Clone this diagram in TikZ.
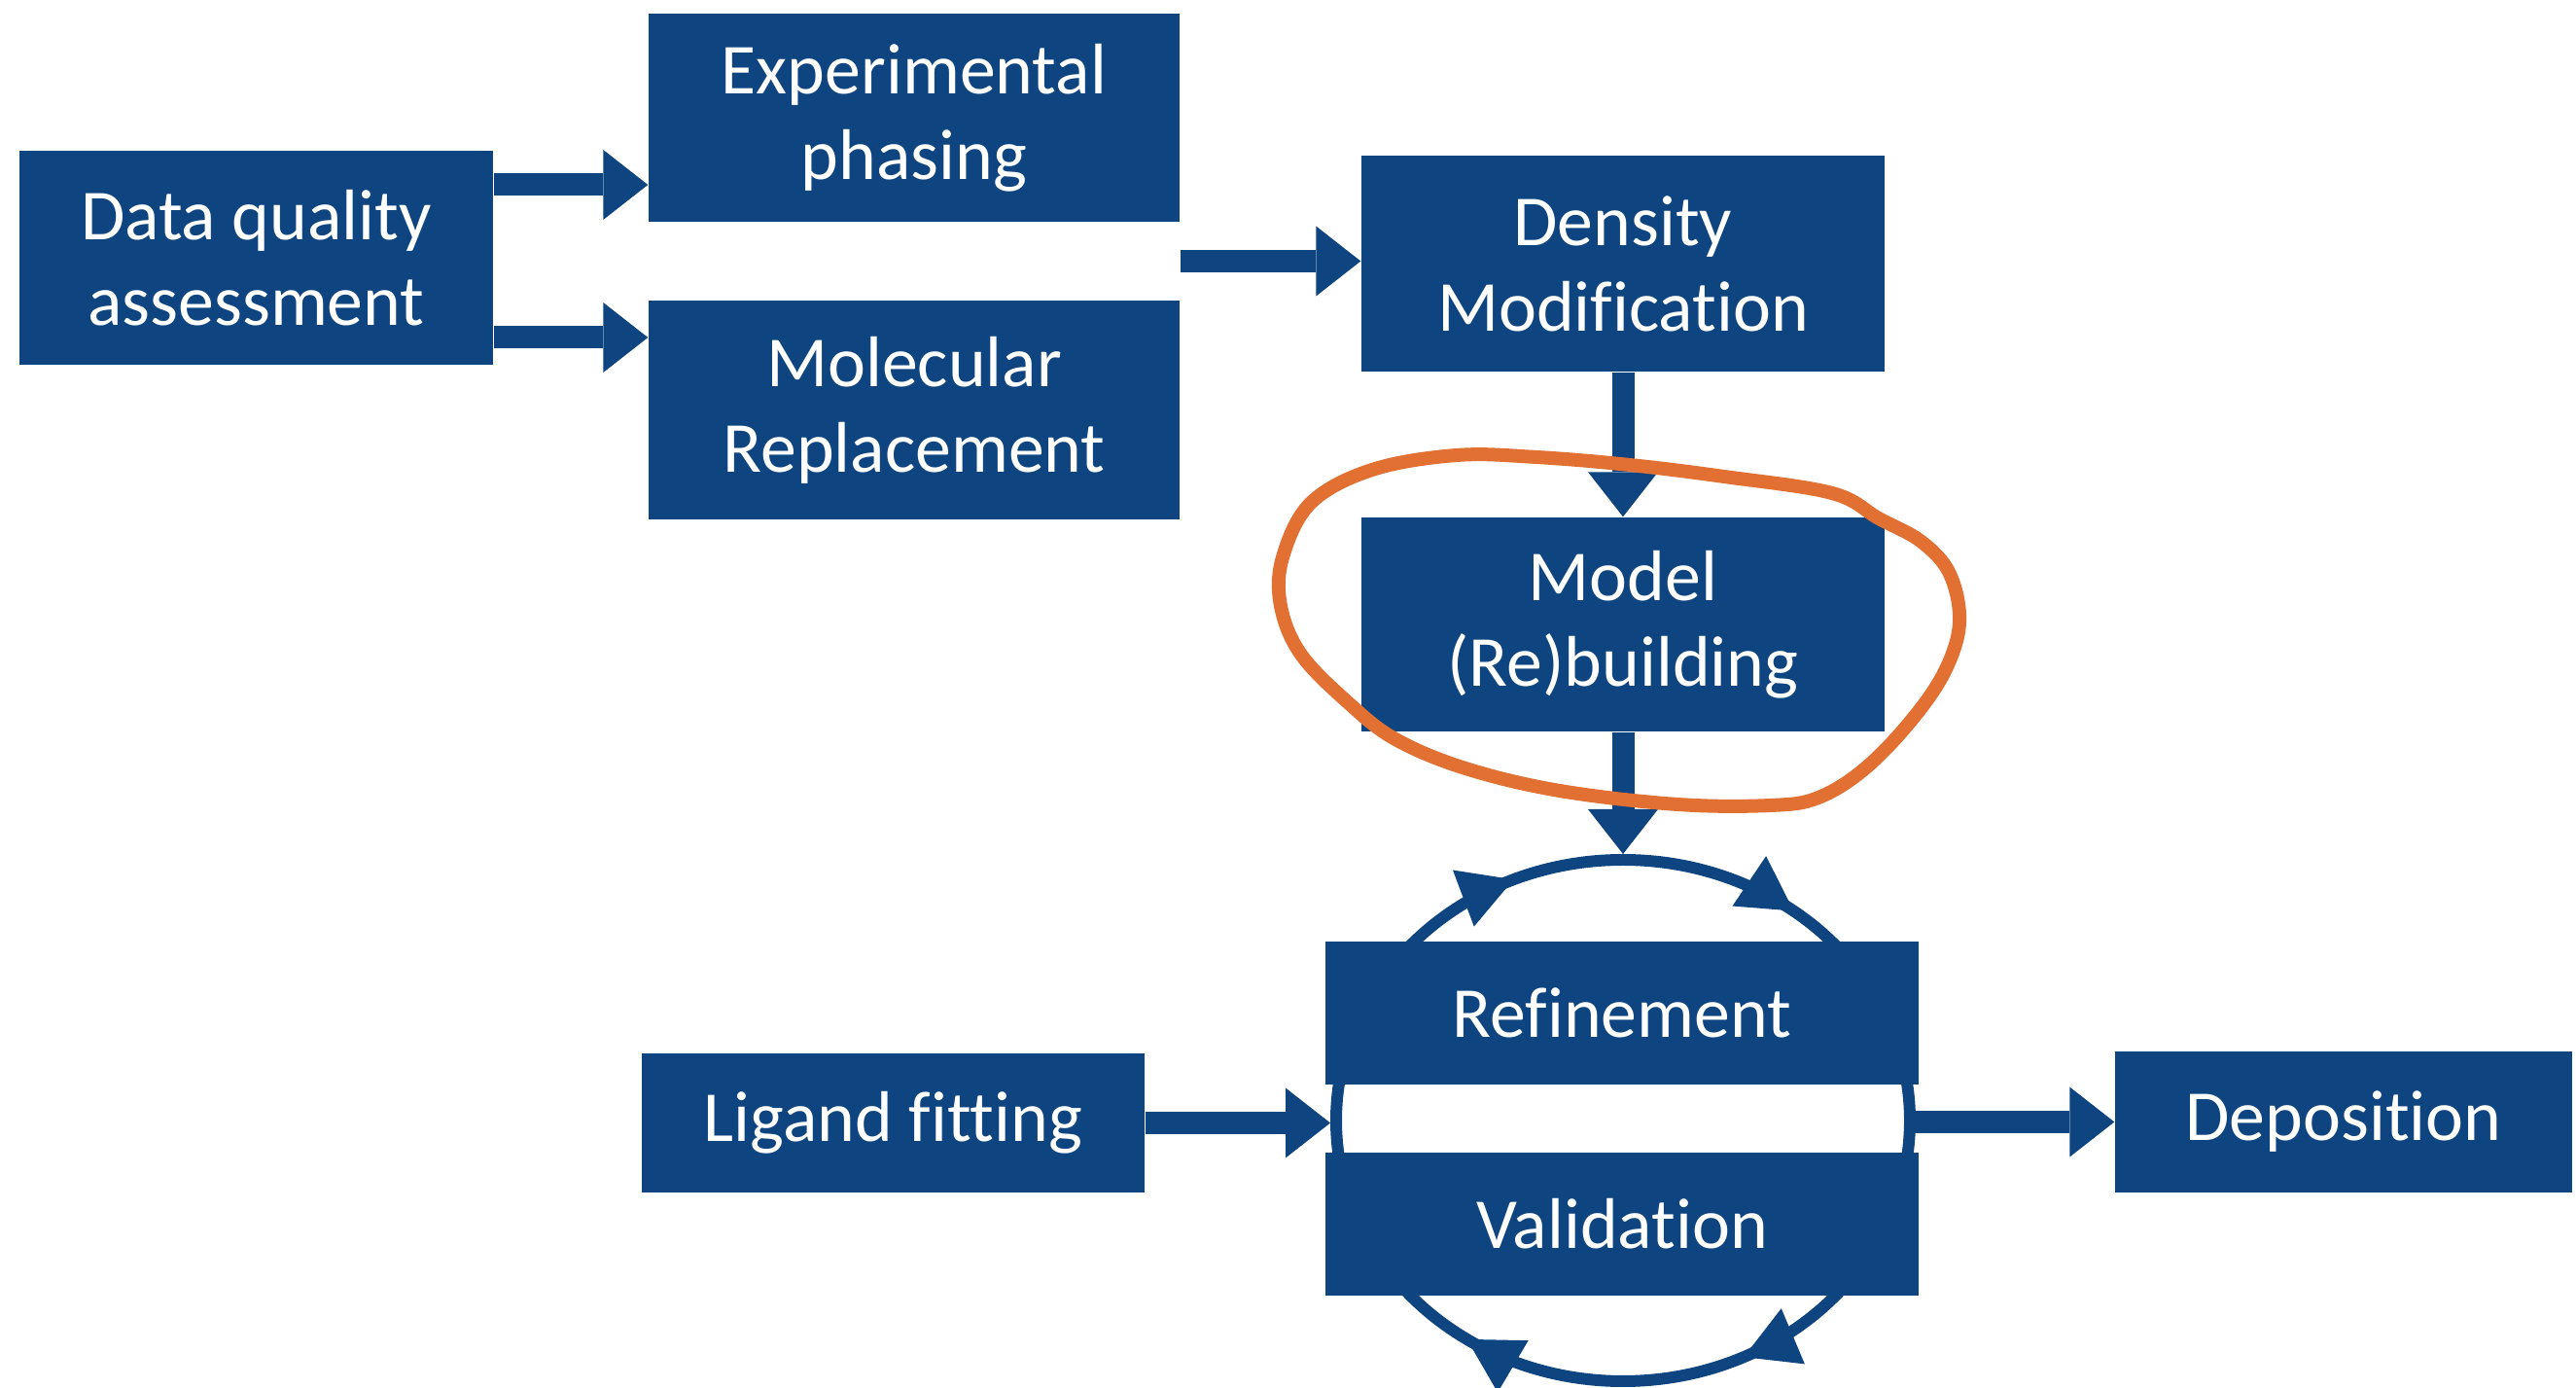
\documentclass[tikz,border=0pt]{standalone}
\usepackage{fontspec}
\setmainfont{Carlito}[Ligatures=CommonOff]
\usetikzlibrary{arrows.meta,decorations.markings,calc}

\definecolor{boxblue}{RGB}{14,68,128}
\definecolor{penorange}{RGB}{225,112,50}

\tikzset{
  stage/.style={fill=boxblue, text=white, inner sep=0pt, align=center,
    font=\fontsize{21}{25}\selectfont},
  flow/.style={->, draw=boxblue, line width=0.23cm},
  loopline/.style={draw=boxblue, line width=0.12cm},
  looptip/.tip={Triangle[length=0.55cm,width=0.62cm,line width=0pt]},
}

\begin{document}
\begin{tikzpicture}[>={Triangle[length=0.46cm,width=0.72cm,line width=0pt]},line join=miter]
  \useasboundingbox (0,0) rectangle (26.49,-14.27);
%%
  % Node: data
  \node[stage, minimum width=4.87cm, minimum height=2.20cm] (data) at (2.635,-2.65) {Data quality\\assessment};
  % Node: exp
  \node[stage, minimum width=5.46cm, minimum height=2.14cm] (exp) at (9.40,-1.21) {Experimental\\phasing};
  % Node: mol
  \node[stage, minimum width=5.46cm, minimum height=2.25cm] (mol) at (9.40,-4.215) {Molecular\\Replacement};
  % Node: dens
  \node[stage, minimum width=5.38cm, minimum height=2.22cm] (dens) at (16.69,-2.71) {Density\\Modification};
  % Node: model
  \node[stage, minimum width=5.38cm, minimum height=2.20cm] (model) at (16.69,-6.42) {Model\\(Re)building};
  % Node: ligand
  \node[stage, minimum width=5.17cm, minimum height=1.43cm] (ligand) at (9.185,-11.545) {Ligand fitting};
  % Node: depo
  \node[stage, minimum width=4.70cm, minimum height=1.45cm] (depo) at (24.10,-11.535) {Deposition};
%
  % refinement cycle, drawn clockwise
  \coordinate (cyc) at (16.69,-11.52);
  \coordinate (looptop) at ([yshift=2.74cm]cyc);
  \coordinate (loopwest) at ([xshift=-3.01cm]cyc);
  \coordinate (loopeast) at ([xshift=2.95cm]cyc);
  \draw[loopline, postaction={decorate}, decoration={markings,
      mark=at position 0.178 with {\arrow{looptip}},
      mark=at position 0.345 with {\arrow{looptip}},
      mark=at position 0.685 with {\arrow{looptip}},
      mark=at position 0.855 with {\arrow{looptip}}}]
    (loopeast) arc[start angle=0, end angle=-360, x radius=2.95cm, y radius=2.68cm];
%
  % Edge: data -> exp
  \coordinate (dq1) at ([yshift=0.75cm]data.east);
  \draw[flow] (dq1) -- (dq1 -| exp.west);
  % Edge: data -> mol
  \coordinate (dq2) at ([yshift=-0.82cm]data.east);
  \draw[flow] (dq2) -- (dq2 -| mol.west);
  % Edge: exp, mol -> dens
  \coordinate (ph) at ($(exp.south east)!0.5!(mol.north east)$);
  \draw[flow] (ph) -- (ph -| dens.west);
  % Edge: dens -> model
  \draw[flow] (dens.south) -- (model.north);
  % Edge: model -> cycle
  \draw[flow] (model.south) -- (looptop);
  % Edge: ligand -> cycle
  \draw[flow] (ligand.east) -- (ligand.east -| loopwest);
  % Edge: cycle -> depo
  \draw[flow] (depo.west -| loopeast) -- (depo.west);
%
  % Node: refine
  \node[stage, minimum width=6.10cm, minimum height=1.47cm] (refine) at (16.68,-10.415) {Refinement};
  % Node: valid
  \node[stage, minimum width=6.10cm, minimum height=1.47cm] (valid) at (16.68,-12.585) {Validation};
%
  % hand-drawn ring round the model step
  \draw[penorange, line width=0.14cm, line cap=round, line join=round]
    plot[smooth cycle, tension=0.6] coordinates {
      (15.80,-4.70) (14.98,-4.68) (14.11,-4.83) (13.48,-5.17) (13.19,-5.73)
      (13.17,-6.23) (13.38,-6.73) (13.87,-7.23) (14.35,-7.60) (15.07,-7.90)
      (16.04,-8.13) (17.25,-8.27) (18.21,-8.28) (18.70,-8.20) (19.18,-7.90)
      (19.66,-7.40) (20.00,-6.90) (20.15,-6.40) (20.05,-5.90) (19.76,-5.57)
      (19.32,-5.33) (18.84,-5.07) (17.73,-4.90) (16.76,-4.78)};
\end{tikzpicture}
\end{document}
